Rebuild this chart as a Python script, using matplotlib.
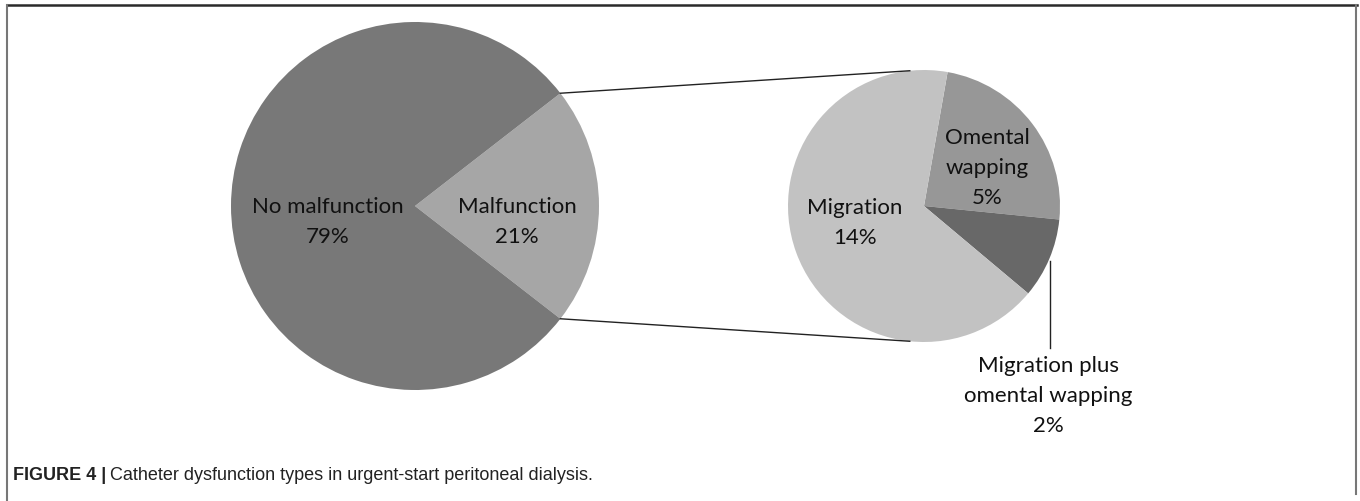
import numpy as np
import matplotlib
matplotlib.use("Agg")
import matplotlib.pyplot as plt
from matplotlib.lines import Line2D

# main pie
main_labels = ["No malfunction", "Malfunction"]
main_values = [79, 21]
main_colors = ["#787878", "#a6a6a6"]

# breakdown of the malfunction slice
sub_labels = ["Omental\nwapping", "Migration plus\nomental wapping", "Migration"]
sub_values = [5, 2, 14]
sub_colors = ["#979797", "#686868", "#c2c2c2"]

caption_bold = "FIGURE 4 |"
caption_text = "Catheter dysfunction types in urgent-start peritoneal dialysis."

W, H = 1360, 502
fig = plt.figure(figsize=(W / 100, H / 100), dpi=100)
ax = fig.add_axes([0, 0, 1, 1])

label_font = dict(family=["Lato", "DejaVu Sans"], fontsize=16, color="#111111",
                  ha="center", va="center", linespacing=1.62)

# ----- left pie -----
c1 = (415, H - 207)
r1 = 184
mal_span = main_values[1] / sum(main_values) * 360
ax.pie(main_values[::-1], colors=main_colors[::-1], startangle=-mal_span / 2,
       center=c1, radius=r1, frame=True, wedgeprops=dict(linewidth=0))

ax.text(c1[0] - 87, c1[1] - 15, f"{main_labels[0]}\n{main_values[0]}%", **label_font)
ax.text(c1[0] + 102, c1[1] - 15, f"{main_labels[1]}\n{main_values[1]}%", **label_font)

# ----- right pie -----
c2 = (924, H - 207)
r2 = 136
ax.pie(sub_values, colors=sub_colors, startangle=80, counterclock=False,
       center=c2, radius=r2, frame=True, wedgeprops=dict(linewidth=0))

ax.text(987, H - 168, f"{sub_labels[0]}\n{sub_values[0]}%", **label_font)
ax.text(855, H - 223, f"{sub_labels[2]}\n{sub_values[2]}%", **label_font)
ax.text(1048, H - 396, f"{sub_labels[1]}\n{sub_values[1]}%", **label_font)

# leader line for the small slice
ax.plot([1050, 1050], [H - 262, H - 349], color="#222222", lw=1)

# connector lines between the two pies
for sgn in (1, -1):
    a1 = np.deg2rad(sgn * mal_span / 2)
    p1 = (c1[0] + r1 * np.cos(a1), c1[1] + r1 * np.sin(a1))
    a2 = np.deg2rad(sgn * 96)
    p2 = (c2[0] + r2 * np.cos(a2), c2[1] + r2 * np.sin(a2))
    ax.plot([p1[0], p2[0]], [p1[1], p2[1]], color="#222222", lw=1)

ax.set_xlim(0, W)
ax.set_ylim(0, H)
ax.set_aspect("equal")
ax.axis("off")

# open frame round the figure
fig.add_artist(Line2D([7 / W, 1357 / W], [1 - 6 / H, 1 - 6 / H],
                      transform=fig.transFigure, color="#2a2a2a", lw=1.8))
fig.add_artist(Line2D([7 / W, 7 / W], [0, 1 - 6 / H],
                      transform=fig.transFigure, color="#777777", lw=1.5))
fig.add_artist(Line2D([1356 / W, 1356 / W], [7 / H, 1 - 6 / H],
                      transform=fig.transFigure, color="#777777", lw=1.5))

# caption
cap_font = ["Liberation Sans Narrow", "Liberation Sans", "DejaVu Sans"]
t1 = fig.text(13 / W, 1 - 476 / H, caption_bold, family=cap_font, fontsize=13,
              fontweight="bold", va="center", color="#222222")
fig.canvas.draw()
bb = t1.get_window_extent()
fig.text((bb.x1 + 4) / W, 1 - 476 / H, caption_text, family=cap_font,
         fontsize=13, va="center", color="#222222")

fig.savefig("out.png", dpi=100)
